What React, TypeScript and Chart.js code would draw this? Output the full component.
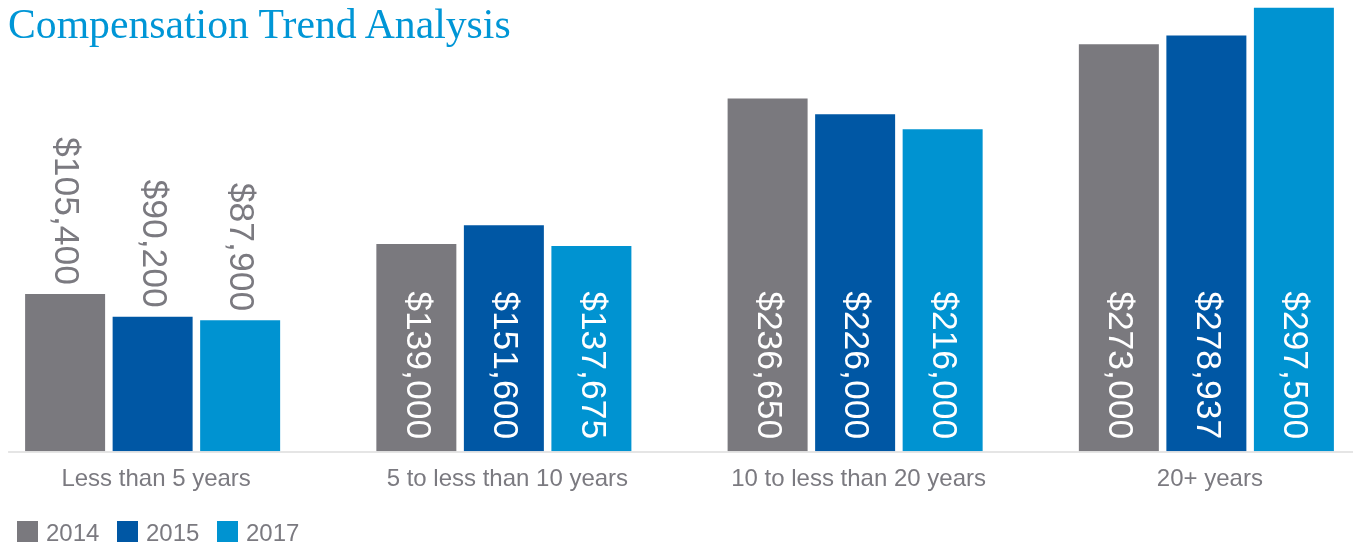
import React, { useEffect, useRef } from "react";
import { Chart, registerables } from "chart.js";

Chart.register(...registerables);

const titleText = "Compensation Trend Analysis";
const categories = [
  "Less than 5 years",
  "5 to less than 10 years",
  "10 to less than 20 years",
  "20+ years",
];
const seriesNames = ["2014", "2015", "2017"];
const values2014 = [105400, 139000, 236650, 273000];
const values2015 = [90200, 151600, 226000, 278937];
const values2017 = [87900, 137675, 216000, 297500];
const seriesValues = [values2014, values2015, values2017];
const seriesColors = ["#7a797e", "#0057a4", "#0093d1"];
const yMax = 300000;

const textGrey = "#7b7a80";
const CANVAS_OFFSET = -23.1;
const CANVAS_W = 1405;
const CANVAS_H = 546;

function fmt(v: number): string {
  return "$" + String(v).replace(/\B(?=(\d{3})+(?!\d))/g, ",");
}

const axisLinePlugin = {
  id: "axisLine",
  beforeDatasetsDraw(chart: any) {
    const { ctx, chartArea } = chart;
    ctx.save();
    ctx.strokeStyle = "#dcdcdc";
    ctx.lineWidth = 1.5;
    ctx.beginPath();
    const y = chartArea.bottom + 0.75;
    ctx.moveTo(8 - CANVAS_OFFSET, y);
    ctx.lineTo(chart.width, y);
    ctx.stroke();
    ctx.restore();
  },
};

const labelPlugin = {
  id: "verticalLabels",
  afterDatasetsDraw(chart: any) {
    const ctx = chart.ctx;
    ctx.save();
    ctx.font = '35.5px "Liberation Sans", Arial, sans-serif';
    chart.data.datasets.forEach((ds: any, di: number) => {
      const meta = chart.getDatasetMeta(di);
      meta.data.forEach((bar: any, i: number) => {
        const v = ds.data[i] as number;
        const text = fmt(v);
        const w = ctx.measureText(text).width;
        const p = bar.getProps(["x", "y", "base"], true);
        const h = p.base - p.y;
        let anchor: number;
        let color: string;
        if (h > w + 20) {
          anchor = p.base - 12;
          color = "#ffffff";
        } else {
          anchor = p.y - 9;
          color = textGrey;
        }
        ctx.save();
        ctx.translate(p.x, anchor);
        ctx.rotate(Math.PI / 2);
        ctx.textAlign = "right";
        ctx.textBaseline = "middle";
        ctx.fillStyle = color;
        ctx.fillText(text, 0, 0);
        ctx.restore();
      });
    });
    ctx.restore();
  },
};

export default function App() {
  const canvasRef = useRef<HTMLCanvasElement | null>(null);

  useEffect(() => {
    if (!canvasRef.current) return;
    const chart = new Chart(canvasRef.current, {
      type: "bar",
      data: {
        labels: categories,
        datasets: seriesNames.map((name, i) => ({
          label: name,
          data: seriesValues[i],
          backgroundColor: seriesColors[i],
          borderWidth: 0,
          categoryPercentage: 0.7475,
          barPercentage: 0.914,
        })),
      },
      options: {
        animation: false,
        responsive: true,
        maintainAspectRatio: false,
        layout: { padding: { top: 4, bottom: 38, left: 0, right: 0 } },
        plugins: {
          legend: { display: false },
          title: { display: false },
          tooltip: { enabled: false },
        },
        scales: {
          x: {
            grid: { display: false, drawTicks: false },
            border: { display: false },
            ticks: {
              color: textGrey,
              padding: 14,
              labelOffset: 3.5,
              font: { family: '"Liberation Sans", Arial, sans-serif', size: 24 },
            },
          },
          y: {
            display: false,
            min: 0,
            max: yMax,
          },
        },
      },
      plugins: [axisLinePlugin, labelPlugin],
    });
    return () => chart.destroy();
  }, []);

  return (
    <div
      style={{
        position: "fixed",
        left: 0,
        top: 0,
        width: 1353,
        height: 546,
        overflow: "hidden",
        background: "#ffffff",
      }}
    >
      <div
        style={{
          position: "absolute",
          left: CANVAS_OFFSET,
          top: 0,
          width: CANVAS_W,
          height: CANVAS_H,
        }}
      >
        <canvas ref={canvasRef} />
      </div>
      <div
        style={{
          position: "absolute",
          left: 8,
          top: 4,
          fontFamily: '"Liberation Serif", "Times New Roman", serif',
          fontSize: 41.7,
          lineHeight: "41px",
          color: "#0096d6",
          whiteSpace: "nowrap",
          pointerEvents: "none",
        }}
      >
        {titleText}
      </div>
      {seriesNames.map((name, i) => (
        <React.Fragment key={name}>
          <div
            style={{
              position: "absolute",
              left: 17 + 100 * i,
              top: 521,
              width: 21,
              height: 21,
              background: seriesColors[i],
            }}
          />
          <div
            style={{
              position: "absolute",
              left: 46 + 100 * i,
              top: 520.7,
              fontFamily: '"Liberation Sans", Arial, sans-serif',
              fontSize: 24,
              lineHeight: "24px",
              color: textGrey,
              whiteSpace: "nowrap",
            }}
          >
            {name}
          </div>
        </React.Fragment>
      ))}
    </div>
  );
}
